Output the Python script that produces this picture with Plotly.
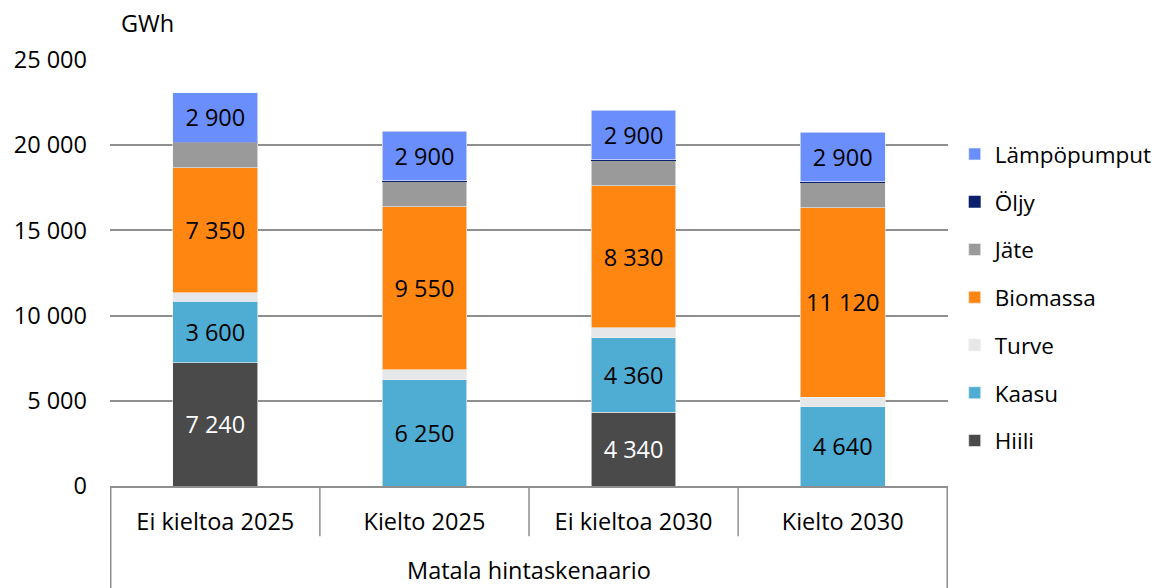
import plotly.graph_objects as go

categories = ["Ei kieltoa 2025", "Kielto 2025", "Ei kieltoa 2030", "Kielto 2030"]
group_label = "Matala hintaskenaario"
unit_label = "GWh"

hiili = [7240, 0, 4340, 0]
kaasu = [3600, 6250, 4360, 4640]
turve = [500, 580, 590, 580]
biomassa = [7350, 9550, 8330, 11120]
jate = [1440, 1490, 1480, 1470]
oljy = [50, 50, 50, 50]
lampopumput = [2900, 2900, 2900, 2900]

series = [
    ("Hiili", hiili, "#4a4a4a", True, "white"),
    ("Kaasu", kaasu, "#4fadd4", True, "black"),
    ("Turve", turve, "#e6e7e9", False, "black"),
    ("Biomassa", biomassa, "#ff8611", True, "black"),
    ("Jäte", jate, "#9a9a9a", False, "black"),
    ("Öljy", oljy, "#0b1f6b", False, "black"),
    ("Lämpöpumput", lampopumput, "#6a8ffc", True, "black"),
]

FONT = "Open Sans"
FS = 23.5
LFS = 22.5
W, H = 1155, 580
ML, MR, MT, MB = 102, 215, 52, 102
PW = W - ML - MR
PH = H - MT - MB

fig = go.Figure()
for i, (name, vals, color, show_lbl, tcolor) in enumerate(series):
    texts = [(f"{v:,}".replace(",", " ") if (show_lbl and v > 0) else "") for v in vals]
    fig.add_trace(go.Bar(
        name=name, x=categories, y=vals,
        marker=dict(color=color, line=dict(width=0 if name == "Öljy" else 0.6, color="#f4f4f4")),
        text=texts, textposition="inside", insidetextanchor="middle",
        textangle=0, constraintext="none",
        textfont=dict(color=tcolor, size=FS, family=FONT),
        legendgroup=name, legendrank=100 - i, width=0.405,
        hoverinfo="x+y+name",
    ))

fig.update_layout(
    barmode="stack",
    width=W, height=H,
    margin=dict(l=ML, r=MR, t=MT, b=MB, autoexpand=False),
    paper_bgcolor="white", plot_bgcolor="white",
    font=dict(family=FONT, size=FS, color="black"),
    separators=", ",
    uniformtext=dict(mode=False),
    legend=dict(
        x=1.008, y=0.829, xanchor="left", yanchor="top",
        traceorder="grouped", tracegroupgap=15.5,
        font=dict(size=LFS, family=FONT),
        itemwidth=30, bgcolor="rgba(0,0,0,0)",
    ),
    xaxis=dict(
        type="category", showgrid=False, showline=True, linecolor="#8f8f8f", linewidth=1.5,
        ticks="", ticklabelstandoff=14, tickfont=dict(size=FS), automargin=False,
    ),
    yaxis=dict(
        range=[0, 25000], dtick=5000, tickformat=",d",
        showgrid=True, gridcolor="#8f8f8f", gridwidth=1.5,
        zeroline=False, showline=False, ticks="", ticklabelstandoff=22,
        tickfont=dict(size=FS), automargin=False,
    ),
    annotations=[
        dict(text=unit_label, xref="paper", yref="paper", x=0.045, y=1 + (MT - 15) / PH,
             xanchor="center", yanchor="middle",
             showarrow=False, font=dict(size=FS)),
        dict(text=group_label, xref="paper", yref="paper", x=0.5, y=-0.197,
             xanchor="center", yanchor="middle",
             showarrow=False, font=dict(size=FS)),
    ],
)

n = len(categories)
shapes = []
for i in range(n + 1):
    b = i - 0.5
    outer = i == 0 or i == n
    shapes.append(dict(type="line", xref="x", yref="paper", x0=b, x1=b,
                       y0=0, y1=-0.245 if outer else -0.118,
                       line=dict(color="#8f8f8f", width=1.5)))
fig.update_layout(shapes=shapes)

fig.write_html("out.html")
